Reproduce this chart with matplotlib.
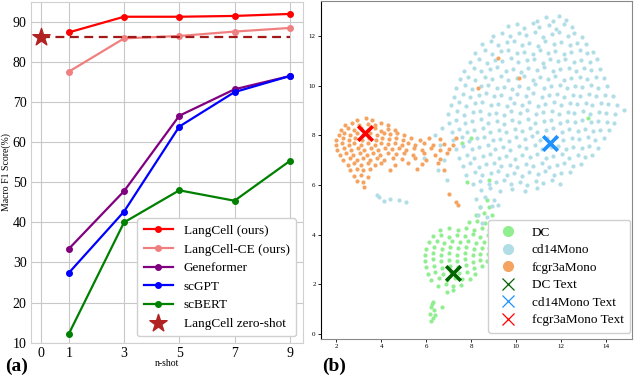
import numpy as np
import matplotlib
matplotlib.use("Agg")
import matplotlib.pyplot as plt
from matplotlib.lines import Line2D

plt.rcParams['font.family'] = ['Liberation Serif', 'DejaVu Serif']

# ---- panel (a): few-shot results ----
shots = [1, 3, 5, 7, 9]
langcell = [87.4, 91.3, 91.3, 91.5, 92.0]
langcell_ce = [77.6, 85.9, 86.5, 87.6, 88.5]
geneformer = [33.4, 47.8, 66.6, 73.2, 76.5]
scgpt = [27.4, 42.7, 63.9, 72.5, 76.5]
scbert = [12.2, 40.0, 48.0, 45.4, 55.3]
zero_shot = 86.2
x_ticks = [0, 1, 3, 5, 7, 9]
y_ticks = [10, 20, 30, 40, 50, 60, 70, 80, 90]

# ---- panel (b): UMAP of cell / text embeddings ----
cd14_pts = [
    (10.9, 12.62), (11.3, 12.78), (11.62, 12.6), (11.9, 12.82), (12.2, 12.66),
    (9.62, 12.38), (10.03, 12.47), (10.33, 12.3), (10.72, 12.5), (11.02, 12.36), (11.43, 12.44),
    (11.74, 12.29), (12.12, 12.48), (12.47, 12.34),
    (8.98, 12.0), (9.37, 12.12), (9.73, 11.98), (10.12, 12.1), (10.44, 12.02), (10.83, 12.15),
    (11.18, 11.97), (11.57, 12.08), (11.88, 12.16), (12.27, 12.0), (12.58, 12.1), (12.92, 11.95),
    (8.48, 11.66), (8.87, 11.78), (9.18, 11.62), (9.57, 11.74), (9.88, 11.8), (10.27, 11.65),
    (10.58, 11.72), (10.97, 11.6), (11.28, 11.79), (11.67, 11.68), (11.98, 11.75), (12.37, 11.63),
    (12.68, 11.7), (13.07, 11.66),
    (8.18, 11.3), (8.62, 11.42), (8.93, 11.28), (9.32, 11.38), (9.63, 11.45), (10.02, 11.3),
    (10.33, 11.36), (10.72, 11.26), (11.03, 11.44), (11.42, 11.33), (11.73, 11.4), (12.12, 11.27),
    (12.43, 11.37), (12.82, 11.43), (13.13, 11.3), (13.42, 11.36),
    (7.93, 10.95), (8.32, 11.06), (8.68, 10.92), (9.07, 11.04), (9.38, 10.98), (9.77, 11.1),
    (10.08, 10.94), (10.47, 11.02), (10.78, 11.08), (11.17, 10.9), (11.48, 11.05), (11.87, 10.97),
    (12.18, 11.07), (12.57, 10.93), (12.88, 11.03), (13.27, 10.96), (13.57, 11.05),
    (7.68, 10.6), (8.12, 10.72), (8.43, 10.58), (8.82, 10.68), (9.13, 10.74), (9.52, 10.6),
    (9.83, 10.66), (10.22, 10.56), (10.53, 10.7), (10.92, 10.62), (11.23, 10.75), (11.62, 10.59),
    (11.93, 10.67), (12.32, 10.71), (12.63, 10.6), (13.02, 10.69), (13.33, 10.63), (13.72, 10.66),
    (7.48, 10.25), (7.87, 10.36), (8.18, 10.22), (8.62, 10.34), (8.93, 10.28), (9.32, 10.4),
    (9.63, 10.24), (10.02, 10.32), (10.33, 10.37), (10.72, 10.21), (11.03, 10.33), (11.42, 10.27),
    (11.73, 10.38), (12.12, 10.23), (12.43, 10.31), (12.82, 10.35), (13.13, 10.26), (13.52, 10.33),
    (13.87, 10.29),
    (7.33, 9.9), (7.72, 10.02), (8.03, 9.88), (8.42, 9.98), (8.73, 10.04), (9.12, 9.9),
    (9.43, 9.96), (9.82, 9.86), (10.13, 10.0), (10.52, 9.92), (10.83, 10.05), (11.22, 9.89),
    (11.53, 9.97), (11.92, 10.01), (12.23, 9.9), (12.62, 9.99), (12.93, 9.93), (13.32, 10.03),
    (13.63, 9.91), (14.02, 9.97),
    (7.23, 9.55), (7.62, 9.67), (7.93, 9.53), (8.32, 9.63), (8.63, 9.69), (9.02, 9.56),
    (9.33, 9.61), (9.72, 9.51), (10.03, 9.66), (10.42, 9.58), (10.73, 9.7), (11.12, 9.54),
    (11.43, 9.62), (11.82, 9.68), (12.13, 9.55), (12.52, 9.64), (12.83, 9.59), (13.22, 9.66),
    (13.53, 9.57), (13.92, 9.63), (14.27, 9.6),
    (7.08, 9.2), (7.47, 9.32), (7.78, 9.18), (8.17, 9.28), (8.48, 9.34), (8.87, 9.2),
    (9.18, 9.26), (9.57, 9.16), (9.88, 9.31), (10.27, 9.23), (10.58, 9.35), (10.97, 9.19),
    (11.28, 9.27), (11.67, 9.33), (11.98, 9.2), (12.37, 9.29), (12.68, 9.24), (13.07, 9.31),
    (13.38, 9.22), (13.77, 9.28), (14.08, 9.25), (14.47, 9.21),
    (6.98, 8.85), (7.37, 8.97), (7.68, 8.83), (8.07, 8.93), (8.38, 8.99), (8.77, 8.85),
    (9.08, 8.91), (9.47, 8.81), (9.78, 8.96), (10.17, 8.88), (10.48, 9.0), (10.87, 8.84),
    (11.18, 8.92), (11.57, 8.98), (11.88, 8.85), (12.27, 8.94), (12.58, 8.89), (12.97, 8.96),
    (13.28, 8.87), (13.67, 8.93), (13.98, 8.9), (14.37, 8.86), (14.78, 9.02),
    (7.02, 8.5), (7.33, 8.62), (7.72, 8.48), (8.03, 8.58), (8.42, 8.64), (8.73, 8.5),
    (9.12, 8.56), (9.43, 8.46), (9.82, 8.61), (10.13, 8.53), (10.52, 8.65), (10.83, 8.49),
    (11.22, 8.57), (11.53, 8.63), (11.92, 8.5), (12.23, 8.59), (12.62, 8.54), (12.93, 8.61),
    (13.32, 8.52), (13.63, 8.58), (14.02, 8.55), (14.33, 8.51),
    (7.12, 8.15), (7.43, 8.27), (7.82, 8.13), (8.13, 8.23), (8.52, 8.29), (8.83, 8.15),
    (9.22, 8.21), (9.53, 8.11), (9.92, 8.26), (10.23, 8.18), (10.62, 8.3), (10.93, 8.14),
    (11.32, 8.22), (11.63, 8.28), (12.02, 8.15), (12.33, 8.24), (12.72, 8.19), (13.03, 8.26),
    (13.42, 8.17), (13.73, 8.23), (14.12, 8.2),
    (7.18, 7.8), (7.57, 7.92), (7.88, 7.78), (8.27, 7.88), (8.58, 7.94), (8.97, 7.8),
    (9.28, 7.86), (9.67, 7.76), (9.98, 7.91), (10.37, 7.83), (10.68, 7.95), (11.07, 7.79),
    (11.38, 7.87), (11.77, 7.93), (12.08, 7.8), (12.47, 7.89), (12.78, 7.84), (13.17, 7.91),
    (13.48, 7.82), (13.87, 7.88),
    (7.32, 7.45), (7.63, 7.57), (8.02, 7.43), (8.33, 7.53), (8.72, 7.59), (9.03, 7.45),
    (9.42, 7.51), (9.73, 7.41), (10.12, 7.56), (10.43, 7.48), (10.82, 7.6), (11.13, 7.44),
    (11.52, 7.52), (11.83, 7.58), (12.22, 7.45), (12.53, 7.54), (12.92, 7.49), (13.23, 7.56),
    (13.62, 7.47),
    (7.43, 7.1), (7.82, 7.22), (8.13, 7.08), (8.52, 7.18), (8.83, 7.24), (9.22, 7.1),
    (9.53, 7.16), (9.92, 7.06), (10.23, 7.21), (10.62, 7.13), (10.93, 7.25), (11.32, 7.09),
    (11.63, 7.17), (12.02, 7.23), (12.33, 7.1), (12.72, 7.19), (13.03, 7.14), (13.37, 7.21),
    (7.62, 6.75), (7.93, 6.87), (8.32, 6.73), (8.63, 6.83), (9.02, 6.89), (9.33, 6.75),
    (9.72, 6.81), (10.03, 6.71), (10.42, 6.86), (10.73, 6.78), (11.12, 6.9), (11.43, 6.74),
    (11.82, 6.82), (12.13, 6.88), (12.52, 6.75), (12.87, 6.84),
    (7.78, 6.4), (8.17, 6.52), (8.48, 6.38), (8.87, 6.48), (9.18, 6.54), (9.57, 6.4),
    (9.88, 6.46), (10.27, 6.36), (10.58, 6.51), (10.97, 6.43), (11.28, 6.55), (11.67, 6.39),
    (11.98, 6.47), (12.37, 6.52),
    (8.07, 6.05), (8.38, 6.17), (8.77, 6.03), (9.08, 6.13), (9.47, 6.19), (9.78, 6.05),
    (10.17, 6.11), (10.48, 6.01), (10.87, 6.16), (11.18, 6.08), (11.57, 6.2), (11.92, 6.04),
    (8.42, 5.78), (8.83, 5.86), (9.28, 5.74), (9.81, 5.83), (10.37, 5.76), (10.92, 5.88),
    (8.2, 5.45), (8.6, 5.5), (9.0, 5.4), (8.4, 5.1), (8.9, 5.15), (8.3, 4.8), (8.7, 4.7),
    (8.45, 4.45), (9.2, 5.2),
    (3.8, 5.6), (3.9, 5.5), (4.1, 5.35), (4.4, 5.45), (4.8, 5.4), (5.1, 5.3),
    (6.4, 8.0), (6.6, 7.6), (6.8, 7.0), (6.5, 6.6), (6.9, 6.2), (5.9, 7.1), (6.7, 8.3),
]

fcgr3a_pts = [
    (2.9, 8.62), (3.3, 8.7), (3.6, 8.6),
    (2.4, 8.42), (2.7, 8.5), (3.0, 8.4), (3.4, 8.47), (3.7, 8.41), (4.0, 8.49), (4.3, 8.4),
    (2.2, 8.22), (2.5, 8.3), (2.8, 8.2), (3.1, 8.28), (3.4, 8.21), (3.7, 8.29), (4.0, 8.19),
    (4.3, 8.27), (4.6, 8.22),
    (2.1, 8.02), (2.35, 8.1), (2.6, 8.0), (2.9, 8.08), (3.2, 8.01), (3.5, 8.09), (3.8, 7.99),
    (4.1, 8.07), (4.4, 8.03), (4.7, 8.1), (5.0, 8.0),
    (2.0, 7.82), (2.3, 7.9), (2.55, 7.8), (2.85, 7.88), (3.15, 7.81), (3.45, 7.89), (3.75, 7.79),
    (4.05, 7.87), (4.35, 7.83), (4.65, 7.9), (4.95, 7.8), (5.3, 7.88), (5.7, 7.82), (6.1, 7.9),
    (6.6, 7.84),
    (2.0, 7.62), (2.25, 7.7), (2.55, 7.6), (2.8, 7.68), (3.1, 7.61), (3.4, 7.69), (3.7, 7.59),
    (4.0, 7.67), (4.3, 7.63), (4.6, 7.7), (4.9, 7.6), (5.2, 7.68), (5.5, 7.62), (5.9, 7.7),
    (6.3, 7.6), (6.8, 7.66), (7.2, 7.6),
    (2.05, 7.42), (2.35, 7.5), (2.65, 7.4), (2.95, 7.48), (3.25, 7.41), (3.55, 7.49), (3.85, 7.39),
    (4.15, 7.47), (4.45, 7.43), (4.8, 7.5), (5.1, 7.4), (5.45, 7.48), (5.8, 7.42), (6.2, 7.5),
    (6.6, 7.4), (7.0, 7.46),
    (2.15, 7.22), (2.45, 7.3), (2.75, 7.2), (3.05, 7.28), (3.35, 7.21), (3.65, 7.29), (3.95, 7.19),
    (4.3, 7.27), (4.65, 7.23), (5.0, 7.3), (5.4, 7.2), (5.9, 7.28), (6.4, 7.22), (6.9, 7.3),
    (2.3, 7.02), (2.6, 7.1), (2.9, 7.0), (3.2, 7.08), (3.5, 7.01), (3.8, 7.09), (4.1, 6.99),
    (4.5, 7.07), (4.9, 7.03), (5.5, 7.1), (6.0, 7.0), (6.6, 7.06),
    (2.5, 6.82), (2.8, 6.9), (3.1, 6.8), (3.4, 6.88), (3.7, 6.81), (4.0, 6.89), (4.6, 6.79),
    (5.2, 6.87), (5.8, 6.83), (6.5, 6.9),
    (2.6, 6.6), (2.9, 6.66), (3.2, 6.58), (3.5, 6.64), (4.4, 6.6), (5.6, 6.66), (6.8, 6.6),
    (2.8, 6.35), (3.1, 6.4), (3.4, 6.32), (2.9, 6.15), (3.2, 6.1),
    (3.25, 5.9), (7.0, 5.65), (7.3, 5.3), (7.4, 5.2), (8.3, 9.9), (9.2, 11.1), (10.1, 10.3),
    (7.3, 7.9),
]

dc_pts = [
    (8.7, 5.4), (8.4, 5.1), (8.8, 5.12),
    (8.2, 4.8), (8.55, 4.85), (8.9, 4.78),
    (7.9, 4.5), (8.25, 4.55), (8.6, 4.48), (8.95, 4.52),
    (6.6, 4.2), (7.0, 4.27), (7.4, 4.18), (7.75, 4.25), (8.1, 4.2), (8.45, 4.28), (8.8, 4.19),
    (6.3, 3.93), (6.65, 4.0), (7.0, 3.92), (7.35, 3.99), (7.7, 3.94), (8.05, 4.01), (8.4, 3.91),
    (8.75, 3.97),
    (6.1, 3.68), (6.45, 3.75), (6.8, 3.67), (7.15, 3.74), (7.5, 3.69), (7.85, 3.76), (8.2, 3.66),
    (8.55, 3.72), (8.85, 3.7),
    (6.0, 3.43), (6.35, 3.5), (6.7, 3.42), (7.05, 3.49), (7.4, 3.44), (7.75, 3.51), (8.1, 3.41),
    (8.45, 3.47), (8.8, 3.45),
    (5.95, 3.18), (6.3, 3.25), (6.65, 3.17), (7.0, 3.24), (7.35, 3.19), (7.7, 3.26), (8.05, 3.16),
    (8.4, 3.22), (8.75, 3.2),
    (5.95, 2.93), (6.3, 3.0), (6.65, 2.92), (7.0, 2.99), (7.35, 2.94), (7.7, 3.01), (8.05, 2.91),
    (8.4, 2.97), (8.7, 2.95),
    (6.0, 2.68), (6.35, 2.75), (6.7, 2.67), (7.05, 2.74), (7.4, 2.69), (7.75, 2.76), (8.1, 2.66),
    (8.45, 2.72),
    (6.05, 2.43), (6.4, 2.5), (6.75, 2.42), (7.1, 2.49), (7.45, 2.44), (7.8, 2.51), (8.15, 2.41),
    (6.2, 2.18), (6.55, 2.25), (6.9, 2.17), (7.25, 2.24), (7.6, 2.19), (7.95, 2.22),
    (6.5, 1.93), (6.85, 2.0), (7.2, 1.92), (7.55, 1.98),
    (6.9, 1.7), (7.2, 1.75),
    (6.3, 1.3), (6.2, 1.1), (6.35, 0.95), (6.15, 0.8), (6.3, 0.65), (6.2, 0.5), (6.4, 0.75),
    (6.25, 1.2), (6.7, 1.1),
    (7.6, 7.7), (7.8, 6.1), (8.0, 7.9), (13.2, 8.7), (8.8, 6.2),
]

text_labels = ['DC Text', 'cd14Mono Text', 'fcgr3aMono Text']
text_x = [7.2, 11.5, 3.26]
text_y = [2.44, 7.7, 8.1]

fig = plt.figure(figsize=(6.4, 3.82), dpi=100)

# ---------------- (a) ----------------
ax = fig.add_axes([0.048, 0.102, 0.425, 0.893])
for v in x_ticks:
    ax.axvline(v, color='#c8c8c8', lw=0.8, zorder=0)
for v in y_ticks:
    ax.axhline(v, color='#c8c8c8', lw=0.8, zorder=0)

ax.plot(shots, langcell, color='red', marker='o', ms=4, lw=1.6, label='LangCell (ours)')
ax.plot(shots, langcell_ce, color='#f08080', marker='o', ms=4, lw=1.6, label='LangCell-CE (ours)')
ax.plot(shots, geneformer, color='purple', marker='o', ms=4, lw=1.6, label='Geneformer')
ax.plot(shots, scgpt, color='blue', marker='o', ms=4, lw=1.6, label='scGPT')
ax.plot(shots, scbert, color='green', marker='o', ms=4, lw=1.6, label='scBERT')
ax.plot([0, 9], [zero_shot, zero_shot], color='#a01818', ls='--', lw=1.6, dashes=(4, 2.5))
ax.scatter([0], [zero_shot], marker='*', s=170, color='#b22222', zorder=5,
           label='LangCell zero-shot')

ax.set_xlim(-0.38, 9.47)
ax.set_ylim(9.9, 95)
ax.set_xticks(x_ticks)
ax.set_yticks(y_ticks)
ax.tick_params(labelsize=10, length=0, pad=3)
for s in ax.spines.values():
    s.set_color('#d0d0d0')
ax.set_xlabel('n-shot', fontsize=7, labelpad=-1)
ax.set_ylabel('Macro F1 Score(%)', fontsize=7, labelpad=1)
leg = ax.legend(loc='lower right', fontsize=9.5, handlelength=2.2, borderpad=0.5,
                labelspacing=0.48, framealpha=1, edgecolor='#d0d0d0', fancybox=True,
                bbox_to_anchor=(1.0, 0.0))
fig.text(0.008, 0.028, '(a)', fontsize=14, fontweight='bold')

# ---------------- (b) ----------------
bx = fig.add_axes([0.502, 0.113, 0.486, 0.884])
dc = np.array(dc_pts)
cd14 = np.array(cd14_pts)
fc = np.array(fcgr3a_pts)
bx.scatter(dc[:, 0], dc[:, 1], s=9, color='lightgreen', lw=0)
bx.scatter(cd14[:, 0], cd14[:, 1], s=9, color='#b0dde6', lw=0)
bx.scatter(fc[:, 0], fc[:, 1], s=9, color='#f4a460', lw=0)
text_colors = ['darkgreen', 'dodgerblue', 'red']
for xx, yy, c in zip(text_x, text_y, text_colors):
    bx.scatter([xx], [yy], marker='x', s=110, color=c, linewidths=2.6, zorder=5)

bx.set_xlim(1.33, 15.15)
bx.set_ylim(-0.2, 13.4)
bx.set_xticks([2, 4, 6, 8, 10, 12, 14])
bx.set_yticks([0, 2, 4, 6, 8, 10, 12])
bx.tick_params(labelsize=5, length=2, width=0.6, pad=2)
for s in bx.spines.values():
    s.set_color('#888888')
bx.spines['left'].set_color('black')

handles = [
    Line2D([], [], ls='', marker='o', ms=7, color='lightgreen'),
    Line2D([], [], ls='', marker='o', ms=7, color='#b0dde6'),
    Line2D([], [], ls='', marker='o', ms=7, color='#f4a460'),
    Line2D([], [], ls='', marker='x', ms=8, mew=0.9, color='darkgreen'),
    Line2D([], [], ls='', marker='x', ms=8, mew=0.9, color='dodgerblue'),
    Line2D([], [], ls='', marker='x', ms=8, mew=0.9, color='red'),
]
names = ['DC', 'cd14Mono', 'fcgr3aMono'] + text_labels
bx.legend(handles, names, loc='lower right', fontsize=9.5, borderpad=0.5, labelspacing=0.4,
          handletextpad=0.8, framealpha=1, edgecolor='#d0d0d0', borderaxespad=0.15,
          bbox_to_anchor=(1.0, 0.012))
fig.text(0.503, 0.028, '(b)', fontsize=14, fontweight='bold')

fig.savefig('out.png', dpi=100)
